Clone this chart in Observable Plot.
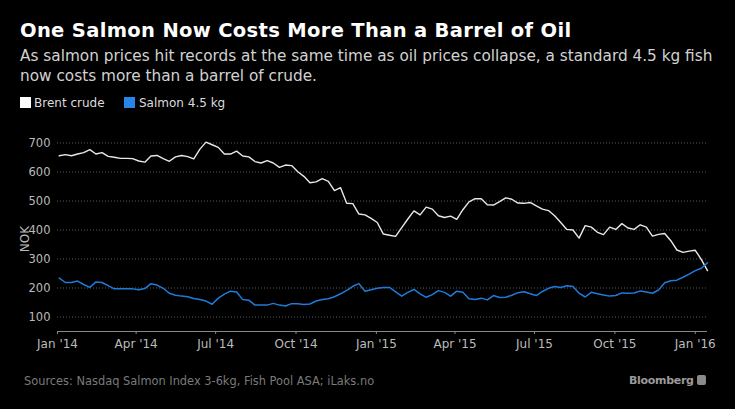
<!DOCTYPE html>
<html><head><meta charset="utf-8">
<script src="https://cdn.jsdelivr.net/npm/d3@7"></script>
<script src="https://cdn.jsdelivr.net/npm/@observablehq/plot@0.6"></script>
<style>
html,body{margin:0;padding:0;background:#000;}
#wrap{position:relative;width:735px;height:409px;background:#000;overflow:hidden;font-family:"DejaVu Sans",sans-serif;}
#title{position:absolute;left:20px;top:21px;font-size:19.5px;line-height:20px;font-weight:bold;color:#fff;white-space:nowrap;letter-spacing:0.33px;}
#sub{position:absolute;left:20px;top:46px;font-size:15.3px;line-height:20px;color:#d2d2d2;white-space:nowrap;}
.sw{position:absolute;top:97px;width:11px;height:11px;}
.lg{position:absolute;top:95px;font-size:12px;line-height:17px;color:#dcdcdc;white-space:nowrap;}
#nok{position:absolute;left:5px;top:231px;width:40px;text-align:center;font-size:12px;line-height:16px;color:#bbb;transform:rotate(-90deg);}
#chart{position:absolute;left:0;top:115px;}
#src{position:absolute;left:24px;top:373px;font-size:11.4px;line-height:16px;color:#7a7a7a;white-space:nowrap;}
#bb{position:absolute;left:629px;top:373px;font-size:11px;line-height:16px;color:#9a9a9a;font-weight:bold;white-space:nowrap;letter-spacing:-0.3px;}
#bb span{display:inline-block;width:9px;height:10px;background:#8a8a8a;border-radius:2px;margin-left:3px;vertical-align:-1px;}
</style>
</head><body>
<div id="wrap">
  <div id="title">One Salmon Now Costs More Than a Barrel of Oil</div>
  <div id="sub">As salmon prices hit records at the same time as oil prices collapse, a standard 4.5 kg fish<br>now costs more than a barrel of crude.</div>
  <div class="sw" style="left:20px;background:#ffffff"></div>
  <div class="lg" style="left:34px">Brent crude</div>
  <div class="sw" style="left:124px;background:#2a86e6"></div>
  <div class="lg" style="left:139px">Salmon 4.5 kg</div>
  <div id="nok">NOK</div>
  <div id="chart"></div>
  <div id="src">Sources: Nasdaq Salmon Index 3-6kg, Fish Pool ASA; iLaks.no</div>
  <div id="bb">Bloomberg<span></span></div>
</div>
<script>
const startDate = "2014-01-03"; // first weekly observation (Fridays)
const brent = [656,660,656,662,667,677,662,667,654,651,647,647,646,638,634,655,657,646,637,652,
  657,653,645,679,703,694,685,662,662,672,655,652,636,631,639,631,616,624,622,601,
  585,563,566,577,568,536,546,492,491,455,452,440,426,386,382,378,408,438,466,452,
  479,472,449,443,448,437,470,497,508,508,487,486,498,511,506,493,492,495,483,472,
  467,449,426,402,400,372,415,410,392,384,410,402,422,407,402,418,410,379,385,388,
  363,331,323,327,330,298,260];
const salmon = [234,219,219,224,212,202,221,219,208,197,197,197,197,194,198,215,210,199,182,175,
  172,170,164,160,155,144,165,179,189,186,160,158,141,141,141,147,141,138,146,146,
  143,145,155,160,163,170,180,192,206,215,189,194,199,202,202,187,172,185,195,180,
  168,177,191,185,172,189,185,163,160,165,159,174,167,168,175,184,187,180,174,188,
  199,205,202,208,205,182,169,185,180,176,172,174,183,182,183,190,186,182,193,218,
  225,227,237,248,260,268,287];
const yTicks = [100,200,300,400,500,600,700];
const xTickDates = ["2014-01-01","2014-04-01","2014-07-01","2014-10-01","2015-01-01","2015-04-01","2015-07-01","2015-10-01","2016-01-01"];

const t0 = new Date(startDate + "T00:00:00Z");
const rows = brent.map((b, i) => ({date: d3.utcDay.offset(t0, 7 * i), brent: b, salmon: salmon[i]}));
const xTicks = xTickDates.map(s => new Date(s + "T00:00:00Z"));

const plot = Plot.plot({
  width: 735, height: 246,
  marginLeft: 57, marginRight: 28, marginTop: 13, marginBottom: 30,
  style: {background: "transparent", color: "#bbb", fontFamily: "DejaVu Sans, sans-serif", fontSize: "11.5px"},
  x: {type: "utc", domain: [xTicks[0], rows[rows.length - 1].date]},
  y: {domain: [50, 750]},
  marks: [
    Plot.gridY(yTicks, {stroke: "#5a5a5a", strokeOpacity: 1, strokeDasharray: "1,2"}),
    Plot.axisY(yTicks, {tickSize: 0, tickPadding: 7, label: null, fill: "#bbb", fontSize: 11.5}),
    Plot.axisX(xTicks, {tickSize: 3, tickPadding: 5, stroke: "#888", fill: "#bbb", fontSize: 12,
      tickFormat: d3.utcFormat("%b '%y"), label: null}),
    Plot.ruleY([50], {stroke: "#888"}),
    Plot.line(rows, {x: "date", y: "brent", stroke: "#e8e8e8", strokeWidth: 1.4}),
    Plot.line(rows, {x: "date", y: "salmon", stroke: "#1f7bd9", strokeWidth: 1.5})
  ]
});
document.getElementById("chart").appendChild(plot);
</script>
</body></html>
